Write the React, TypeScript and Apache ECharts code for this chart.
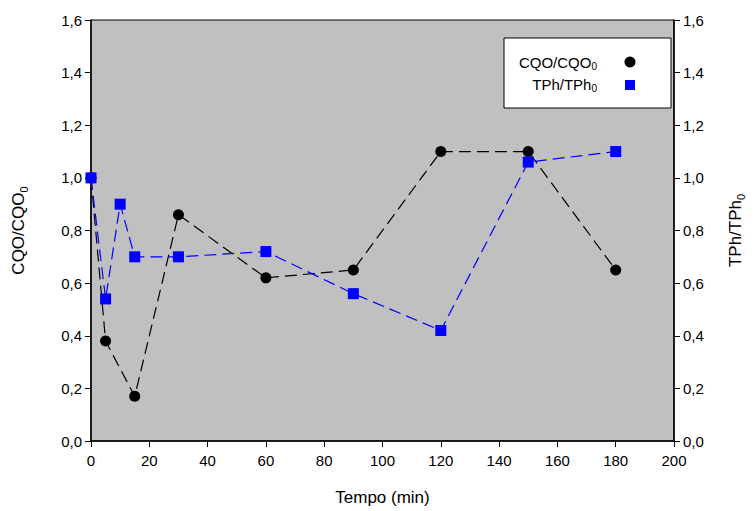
import React, { useEffect, useRef } from "react";
import * as echarts from "echarts";

const tempo = [0, 5, 10, 15, 30, 60, 90, 120, 150, 180];
const cqoTimes = [0, 5, 15, 30, 60, 90, 120, 150, 180];
const cqoValues = [1.0, 0.38, 0.17, 0.86, 0.62, 0.65, 1.1, 1.1, 0.65];
const tphValues = [1.0, 0.54, 0.9, 0.7, 0.7, 0.72, 0.56, 0.42, 1.06, 1.1];
const xTicks = [0, 20, 40, 60, 80, 100, 120, 140, 160, 180, 200];
const yTicks = [0, 0.2, 0.4, 0.6, 0.8, 1.0, 1.2, 1.4, 1.6];

const FONT = "Liberation Sans, Arial, sans-serif";

export default function App() {
  const ref = useRef<HTMLDivElement>(null);
  useEffect(() => {
    document.body.style.margin = "0";
    const chart = echarts.init(ref.current!, null, { renderer: "svg" });
    const fmt = (v: number) => v.toFixed(1).replace(".", ",");
    const subRich = {
      a: { fontSize: 17, fontFamily: FONT, color: "#000" },
      b: { fontSize: 11, fontFamily: FONT, color: "#000", padding: [10, 0, 0, 0] },
    };
    const yAxisBase = {
      type: "value",
      min: yTicks[0],
      max: yTicks[yTicks.length - 1],
      interval: 0.2,
      axisLine: { show: true, lineStyle: { color: "#000", width: 1.5 } },
      axisTick: { show: true, inside: false, length: 6, lineStyle: { color: "#000" } },
      splitLine: { show: false },
      axisLabel: { formatter: fmt, color: "#000", fontSize: 15, fontFamily: FONT, margin: 9 },
      nameLocation: "middle",
      nameRotate: 90,
      nameTextStyle: { rich: subRich },
    };
    chart.setOption({
      animation: false,
      grid: {
        left: 91,
        right: 78,
        top: 20,
        bottom: 69,
        show: true,
        backgroundColor: "#c0c0c0",
        borderColor: "#000",
        borderWidth: 1,
      },
      xAxis: {
        type: "value",
        min: xTicks[0],
        max: xTicks[xTicks.length - 1],
        interval: 20,
        axisLine: { show: true, onZero: false, lineStyle: { color: "#000", width: 1.5 } },
        axisTick: { show: true, length: 6, lineStyle: { color: "#000" } },
        splitLine: { show: false },
        axisLabel: { color: "#000", fontSize: 15, fontFamily: FONT, margin: 12 },
        name: "Tempo (min)",
        nameLocation: "middle",
        nameGap: 48,
        nameTextStyle: { color: "#000", fontSize: 17, fontFamily: FONT },
      },
      yAxis: [
        { ...yAxisBase, position: "left", name: "{a|CQO/CQO}{b|0}", nameGap: 62 },
        { ...yAxisBase, position: "right", name: "{a|TPh/TPh}{b|0}", nameGap: 51 },
      ],
      series: [
        {
          name: "CQO/CQO0",
          type: "line",
          yAxisIndex: 0,
          data: cqoTimes.map((t, i) => [t, cqoValues[i]]),
          symbol: "circle",
          symbolSize: 11,
          itemStyle: { color: "#000" },
          lineStyle: { color: "#000", width: 1.2, type: [12, 6] },
          z: 2,
        },
        {
          name: "TPh/TPh0",
          type: "line",
          yAxisIndex: 1,
          data: tempo.map((t, i) => [t, tphValues[i]]),
          symbol: "rect",
          symbolSize: 11,
          itemStyle: { color: "#0000ff" },
          lineStyle: { color: "#0000ff", width: 1.2, type: [12, 6] },
          z: 3,
        },
      ],
      graphic: [
        {
          type: "rect",
          shape: { x: 504, y: 38, width: 167, height: 70 },
          style: { fill: "#fff", stroke: "#000", lineWidth: 1 },
          z: 10,
        },
        {
          type: "text",
          x: 597,
          y: 62,
          style: {
            text: "{a|CQO/CQO}{b|0}",
            align: "right",
            verticalAlign: "middle",
            rich: {
              a: { fontSize: 15, fontFamily: FONT, fill: "#000" },
              b: { fontSize: 10, fontFamily: FONT, fill: "#000", padding: [8, 0, 0, 0] },
            },
          },
          z: 11,
        },
        {
          type: "circle",
          shape: { cx: 630, cy: 62, r: 5.5 },
          style: { fill: "#000" },
          z: 11,
        },
        {
          type: "text",
          x: 597,
          y: 84,
          style: {
            text: "{a|TPh/TPh}{b|0}",
            align: "right",
            verticalAlign: "middle",
            rich: {
              a: { fontSize: 15, fontFamily: FONT, fill: "#000" },
              b: { fontSize: 10, fontFamily: FONT, fill: "#000", padding: [8, 0, 0, 0] },
            },
          },
          z: 11,
        },
        {
          type: "rect",
          shape: { x: 625, y: 80, width: 10, height: 10 },
          style: { fill: "#0000ff" },
          z: 11,
        },
      ],
    });
    return () => chart.dispose();
  }, []);
  return <div ref={ref} style={{ width: 754, height: 511 }} />;
}
